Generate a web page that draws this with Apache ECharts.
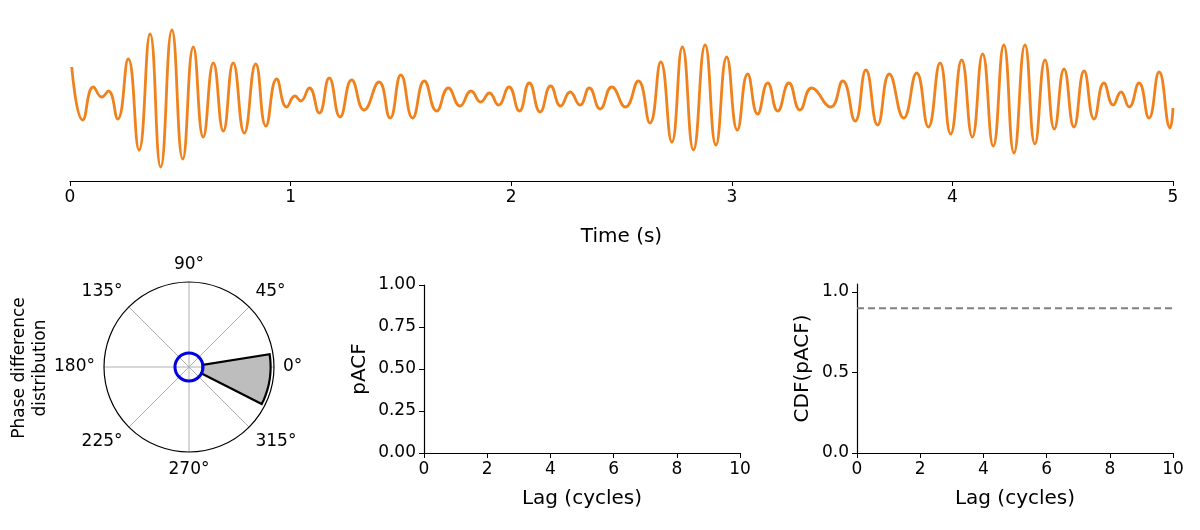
<!DOCTYPE html>
<html><head><meta charset="utf-8">
<script src="https://cdn.jsdelivr.net/npm/echarts@6/dist/echarts.min.js"></script>
<style>html,body{margin:0;padding:0;background:#fff}#c{width:1200px;height:530px}</style>
</head><body><div id="c"></div>
<script>
var times = [0.008,0.058,0.106,0.144,0.174,0.216,0.264,0.313,0.363,0.411,0.462,0.511,0.559,0.604,0.650,0.695,0.740,0.790,0.842,0.888,0.937,0.982,1.020,1.046,1.085,1.130,1.175,1.224,
1.277,1.333,1.401,1.451,1.500,1.553,1.606,1.662,1.715,1.768,1.818,1.862,1.901,1.942,1.990,2.037,2.082,2.131,2.179,2.224,2.267,2.312,2.354,2.403,2.456,2.518,
2.576,2.629,2.678,2.728,2.776,2.826,2.879,2.928,2.977,3.025,3.072,3.117,3.163,3.208,3.259,3.309,3.362,3.448,3.503,3.559,3.608,3.661,3.714,3.779,
3.838,3.891,3.944,3.992,4.042,4.090,4.137,4.185,4.233,4.279,4.329,4.374,4.420,4.462,4.506,4.551,4.597,4.642,4.687,4.729,4.764,4.801,4.846,4.891,4.937,4.987,5.000];
var signal = [3.0,-2.3,1.0,0.0,0.6,-2.2,3.8,-5.3,6.3,-7.0,6.7,-6.2,5.0,-4.0,3.4,-3.4,3.4,-3.6,3.3,-2.9,1.8,-1.0,0.1,-0.4,0.9,-1.6,1.9,-2.0,
1.7,-1.3,1.5,-2.1,2.2,-2.1,1.6,-1.4,0.9,-0.9,0.6,-0.5,0.4,-0.8,1.0,-1.4,1.4,-1.5,1.1,-0.9,0.5,-0.8,0.9,-1.2,1.0,-1.0,
1.6,-2.6,3.5,-4.5,5.0,-5.3,5.2,-4.8,4.0,-3.3,2.3,-1.7,1.4,-1.4,1.4,-1.3,0.9,-1.0,1.6,-2.4,2.7,-2.8,2.3,-2.1,
2.4,-3.0,3.4,-3.7,3.7,-4.0,4.3,-4.9,5.2,-5.6,5.2,-4.7,3.7,-3.2,2.8,-3.0,2.6,-2.2,1.4,-0.8,0.5,-1.0,1.4,-2.1,2.5,-3.1,-1.1];
var timeTicks = [0,1,2,3,4,5];
var phaseBin = {start:-27, end:9, inner:0.16, outer:0.96};
var meanCircleRadius = 0.165;
var cdfLevel = 0.9;
var lagRange = [0,10];

var font = 'DejaVu Sans';
var sig = times.map(function(t,i){return [t,signal[i]];});
var chart = echarts.init(document.getElementById('c'));
function axisCommon(){return {axisLine:{onZero:false,lineStyle:{color:'#000',width:1.2}},axisTick:{length:5,lineStyle:{color:'#000'}},
  axisLabel:{color:'#000',fontSize:17,fontFamily:font},splitLine:{show:false},nameTextStyle:{color:'#000',fontSize:20,fontFamily:font}};}
var xa0 = Object.assign(axisCommon(),{gridIndex:0,type:'value',min:0,max:5,interval:1,name:'Time (s)',nameLocation:'middle',nameGap:46});
var ya0 = {gridIndex:0,type:'value',min:-8.4,max:7.7,show:false};
var xa1 = Object.assign(axisCommon(),{gridIndex:1,type:'value',min:0,max:10,interval:2,name:'Lag (cycles)',nameLocation:'middle',nameGap:36});
var ya1 = Object.assign(axisCommon(),{gridIndex:1,type:'value',min:0,max:1,interval:0.25,name:'pACF',nameLocation:'middle',nameGap:54,
  axisLabel:{color:'#000',fontSize:17,fontFamily:font,formatter:function(v){return v.toFixed(2);}}});
var xa2 = Object.assign(axisCommon(),{gridIndex:2,type:'value',min:0,max:10,interval:2,name:'Lag (cycles)',nameLocation:'middle',nameGap:36});
var ya2 = Object.assign(axisCommon(),{gridIndex:2,type:'value',min:0,max:1.05,interval:0.5,name:'CDF(pACF)',nameLocation:'middle',nameGap:44,
  axisLabel:{color:'#000',fontSize:17,fontFamily:font,formatter:function(v){return v.toFixed(1);},showMaxLabel:false}});

chart.setOption({
  animation:false,
  grid:[{left:70,width:1103,top:20,height:161},{left:424,width:316,top:285,height:168},{left:857,width:316,top:284,height:169}],
  xAxis:[xa0,xa1,xa2], yAxis:[ya0,ya1,ya2],
  polar:{center:[189,367],radius:85},
  angleAxis:{type:'value',min:0,max:360,interval:45,startAngle:0,clockwise:false,
    axisLine:{lineStyle:{color:'#000',width:1.2}},axisTick:{show:false},
    axisLabel:{color:'#000',fontSize:17,fontFamily:font,margin:9,formatter:function(v){return v===360?'':v+'°';}},
    splitLine:{show:true,lineStyle:{color:'#b0b0b0',width:1}}},
  radiusAxis:{min:0,max:1,axisLine:{show:false},axisTick:{show:false},axisLabel:{show:false},splitLine:{show:false}},
  graphic:[{type:'text',x:30,y:368,rotation:Math.PI/2,
    style:{text:'Phase difference\ndistribution',fill:'#000',font:'17px DejaVu Sans',align:'center',verticalAlign:'middle',lineHeight:21}}],
  series:[
    {type:'line',xAxisIndex:0,yAxisIndex:0,data:sig,smooth:0.5,showSymbol:false,lineStyle:{color:'#f0821e',width:2.8}},
    {type:'line',xAxisIndex:1,yAxisIndex:1,data:[],showSymbol:false},
    {type:'line',xAxisIndex:2,yAxisIndex:2,data:[[lagRange[0],cdfLevel],[lagRange[1],cdfLevel]],showSymbol:false,
      lineStyle:{color:'#808080',width:2,type:[7,4]}},
    {type:'custom',coordinateSystem:'polar',data:[[phaseBin.outer,phaseBin.start,phaseBin.end,phaseBin.inner]],
      renderItem:function(params,api){
        var pts=[],a0=api.value(1),a1=api.value(2),ro=api.value(0),ri=api.value(3),n=24,i;
        for(i=0;i<=n;i++){var a=a0+(a1-a0)*i/n;pts.push(api.coord([ro,(a+360)%360]));}
        for(i=n;i>=0;i--){var b=a0+(a1-a0)*i/n;pts.push(api.coord([ri,(b+360)%360]));}
        return {type:'polygon',shape:{points:pts},style:{fill:'#bdbdbd',stroke:'#000',lineWidth:2.2}};
      }},
    {type:'custom',coordinateSystem:'polar',data:[[meanCircleRadius,0]],
      renderItem:function(params,api){
        var c=api.coord([0,0]),p=api.coord([api.value(0),0]);
        var r=Math.sqrt((p[0]-c[0])*(p[0]-c[0])+(p[1]-c[1])*(p[1]-c[1]));
        return {type:'circle',shape:{cx:c[0],cy:c[1],r:r},style:{fill:'none',stroke:'#0000e0',lineWidth:3}};
      }}
  ]
});
</script></body></html>
